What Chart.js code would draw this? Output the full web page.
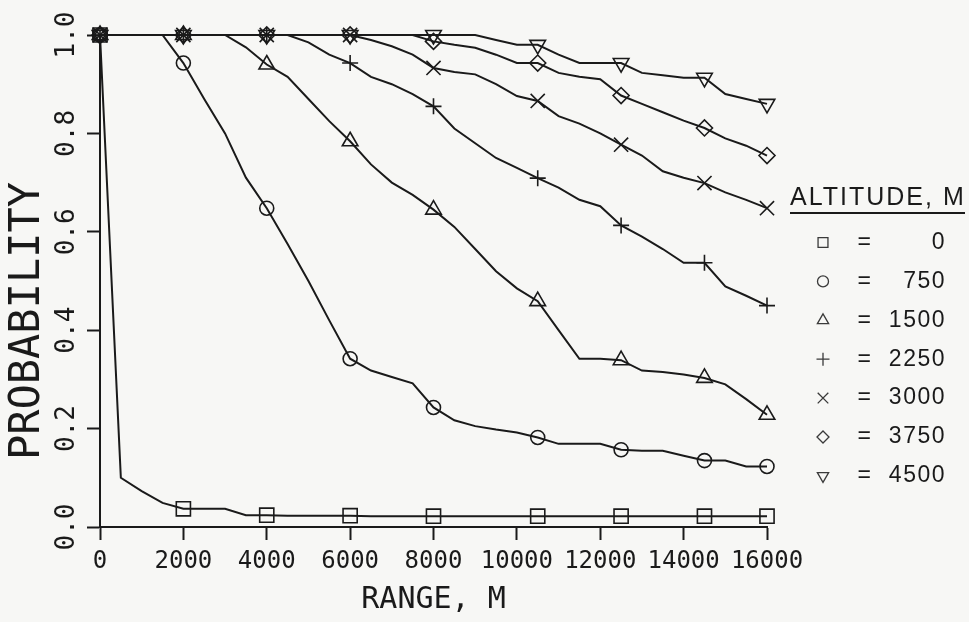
<!DOCTYPE html>
<html>
<head>
<meta charset="utf-8">
<script src="https://cdn.jsdelivr.net/npm/chart.js@4.4.1/dist/chart.umd.min.js"></script>
<style>
  html, body { margin: 0; padding: 0; background: #f7f7f5; }
  #wrap { width: 969px; height: 622px; position: relative; }
</style>
</head>
<body>
<div id="wrap"><canvas id="probChart"></canvas></div>
<script>
// Rango (m) de cada vértice de las curvas
const ranges = [0, 500, 1000, 1500, 2000, 2500, 3000, 3500, 4000, 4500, 5000, 5500,
  6000, 6500, 7000, 7500, 8000, 8500, 9000, 9500, 10000, 10500, 11000, 11500,
  12000, 12500, 13000, 13500, 14000, 14500, 15000, 15500, 16000];
// Rangos donde se dibuja un marcador
const markerRanges = [0, 2000, 4000, 6000, 8000, 10500, 12500, 14500, 16000];
const rangeTicks = [0, 2000, 4000, 6000, 8000, 10000, 12000, 14000, 16000];
const probTicks = [0, 0.2, 0.4, 0.6, 0.8, 1.0];
const altitudes = [0, 750, 1500, 2250, 3000, 3750, 4500];

const prob0 = [1.0, 0.10, 0.073, 0.049, 0.037, 0.037, 0.037, 0.024, 0.024, 0.023, 0.023, 0.023,
  0.023, 0.022, 0.022, 0.022, 0.022, 0.022, 0.022, 0.022, 0.022, 0.022, 0.022, 0.022,
  0.022, 0.022, 0.022, 0.022, 0.022, 0.022, 0.022, 0.022, 0.022];
const prob750 = [1, 1, 1, 1, 0.943, 0.87, 0.80, 0.71, 0.648, 0.575, 0.50, 0.42,
  0.342, 0.318, 0.305, 0.292, 0.243, 0.217, 0.205, 0.198, 0.192, 0.182, 0.169, 0.169,
  0.169, 0.157, 0.155, 0.155, 0.145, 0.135, 0.135, 0.123, 0.123];
const prob1500 = [1, 1, 1, 1, 1, 1, 1, 0.975, 0.94, 0.915, 0.87, 0.825,
  0.784, 0.737, 0.70, 0.675, 0.645, 0.61, 0.565, 0.52, 0.485, 0.459, 0.40, 0.342,
  0.342, 0.339, 0.318, 0.315, 0.31, 0.303, 0.29, 0.26, 0.228];
const prob2250 = [1, 1, 1, 1, 1, 1, 1, 1, 1, 1, 0.985, 0.96,
  0.943, 0.915, 0.90, 0.88, 0.855, 0.81, 0.78, 0.75, 0.73, 0.709, 0.69, 0.665,
  0.652, 0.613, 0.59, 0.565, 0.537, 0.537, 0.489, 0.47, 0.45];
const prob3000 = [1, 1, 1, 1, 1, 1, 1, 1, 1, 1, 1, 1,
  1, 0.99, 0.977, 0.96, 0.933, 0.925, 0.92, 0.90, 0.876, 0.866, 0.835, 0.82,
  0.80, 0.777, 0.755, 0.723, 0.71, 0.699, 0.68, 0.665, 0.648];
const prob3750 = [1, 1, 1, 1, 1, 1, 1, 1, 1, 1, 1, 1,
  1, 1, 1, 1, 0.987, 0.98, 0.974, 0.96, 0.943, 0.943, 0.923, 0.915,
  0.91, 0.877, 0.86, 0.843, 0.826, 0.811, 0.79, 0.775, 0.755];
const prob4500 = [1, 1, 1, 1, 1, 1, 1, 1, 1, 1, 1, 1,
  1, 1, 1, 1, 1, 1, 1, 0.99, 0.98, 0.98, 0.96, 0.943,
  0.943, 0.943, 0.923, 0.918, 0.913, 0.913, 0.88, 0.87, 0.86];

const mono = "'DejaVu Sans Mono', 'Liberation Mono', monospace";
const sans = "'Liberation Sans', Arial, sans-serif";
const ink = '#1a1a1a';

// Una serie por altitud
function serie(values, style, radius, legendRadius, rotation) {
  return {
    data: ranges.map((r, i) => ({ x: r, y: values[i] })),
    borderColor: ink,
    borderWidth: 2,
    pointStyle: style,
    rotation: rotation || 0,
    pointRadius: ctx => markerRanges.includes(ranges[ctx.dataIndex]) ? radius : 0,
    pointHoverRadius: 0,
    pointBorderColor: ink,
    pointBorderWidth: 1.6,
    pointBackgroundColor: 'rgba(0,0,0,0)',
    legendRadius: legendRadius,
    tension: 0,
    clip: false
  };
}

const datasets = [
  serie(prob0, 'rect', 10, 7),
  serie(prob750, 'circle', 7, 5.5),
  serie(prob1500, 'triangle', 9, 6.5),
  serie(prob2250, 'cross', 8, 6.5),
  serie(prob3000, 'crossRot', 10, 7.5),
  serie(prob3750, 'rectRot', 8, 6),
  serie(prob4500, 'triangle', 9, 6.5, 180)
];

// Etiquetas del eje Y giradas, título vertical y leyenda
const extras = {
  id: 'extras',
  afterDraw(chart) {
    const ctx = chart.ctx;
    const yScale = chart.scales.y;

    ctx.save();
    ctx.fillStyle = ink;
    ctx.textAlign = 'center';
    ctx.textBaseline = 'middle';
    ctx.font = '26px ' + mono;
    yScale.ticks.forEach(t => {
      ctx.save();
      ctx.translate(67, yScale.getPixelForValue(t.value));
      ctx.rotate(-Math.PI / 2);
      ctx.fillText(t.value.toFixed(1), 0, 0);
      ctx.restore();
    });
    // título eje Y
    ctx.font = '42px ' + mono;
    ctx.translate(28, 321);
    ctx.rotate(-Math.PI / 2);
    ctx.fillText('PROBABILITY', 0, 0);
    ctx.restore();

    ctx.save();
    ctx.fillStyle = ink;
    ctx.font = '25px ' + sans;
    ctx.letterSpacing = '2px';
    ctx.textAlign = 'left';
    ctx.textBaseline = 'alphabetic';
    ctx.fillText('ALTITUDE, M', 790, 205);
    ctx.fillRect(790, 212, 175, 2);

    ctx.font = '23px ' + sans;
    ctx.letterSpacing = '1.5px';
    ctx.textBaseline = 'middle';
    altitudes.forEach((alt, i) => {
      const y = 242.5 + i * 38.9;
      const ds = chart.data.datasets[i];
      ctx.save();
      ctx.fillStyle = 'rgba(0,0,0,0)';
      ctx.strokeStyle = '#3a3a3a';
      ctx.lineWidth = 1.3;
      Chart.helpers.drawPoint(ctx, {
        pointStyle: ds.pointStyle, rotation: ds.rotation, radius: ds.legendRadius, borderWidth: 1.3
      }, 823, y);
      ctx.restore();
      ctx.textAlign = 'center';
      ctx.fillText('=', 865, y);
      ctx.textAlign = 'right';
      ctx.fillText(String(alt), 946, y);
    });
    ctx.restore();
  }
};

const chart = new Chart(document.getElementById('probChart').getContext('2d'), {
  type: 'line',
  data: { datasets: datasets },
  plugins: [extras],
  options: {
    responsive: true,
    maintainAspectRatio: false,
    animation: false,
    layout: { padding: { left: 0, top: 35, right: 202, bottom: 0 } },
    plugins: {
      legend: { display: false },
      title: { display: false },
      tooltip: { enabled: false }
    },
    scales: {
      x: {
        type: 'linear',
        min: 0,
        max: 16000,
        afterBuildTicks: s => { s.ticks = rangeTicks.map(v => ({ value: v })); },
        afterFit: s => { s.height = 95; s.paddingLeft = 0; s.paddingRight = 0; },
        ticks: {
          callback: v => String(v),
          maxRotation: 0,
          padding: 7,
          color: ink,
          font: { family: mono, size: 24 }
        },
        grid: { drawOnChartArea: false, tickLength: 13, tickWidth: 2, color: ink },
        border: { color: ink, width: 2 },
        title: {
          display: true,
          text: 'RANGE, M',
          color: ink,
          font: { family: mono, size: 30 },
          padding: { top: 0, bottom: 4 }
        }
      },
      y: {
        min: 0,
        max: 1,
        afterBuildTicks: s => { s.ticks = probTicks.map(v => ({ value: v })); },
        afterFit: s => { s.width = 100; s.paddingTop = 0; s.paddingBottom = 0; },
        ticks: { display: false },
        grid: { drawOnChartArea: false, tickLength: 13, tickWidth: 2, color: ink },
        border: { color: ink, width: 2 }
      }
    }
  }
});
</script>
</body>
</html>
